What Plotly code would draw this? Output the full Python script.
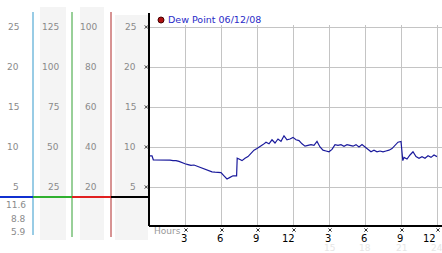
import plotly.graph_objects as go

# ---------------- data ----------------
hours = [0, 0.25, 0.36, 0.5, 0.75, 1.0, 1.25, 1.5, 1.75, 2.0, 2.25, 2.5, 2.75, 3.0,
         3.25, 3.5, 3.75, 4.0, 4.25, 4.5, 4.75, 5.0, 5.25, 5.5, 5.75, 6.0, 6.25,
         6.5, 6.75, 7.0, 7.3, 7.35, 7.5, 7.75, 8.0, 8.25, 8.5, 8.75, 9.0, 9.25,
         9.5, 9.75, 10.0, 10.25, 10.5, 10.75, 11.0, 11.25, 11.5, 11.75, 12.0,
         12.25, 12.5, 12.75, 13.0, 13.25, 13.5, 13.75, 14.0, 14.25, 14.5, 14.75,
         15.0, 15.25, 15.5, 15.75, 16.0, 16.25, 16.5, 16.75, 17.0, 17.25, 17.5,
         17.75, 18.0, 18.25, 18.5, 18.75, 19.0, 19.25, 19.5, 19.75, 20.0, 20.25,
         20.5, 20.75, 21.0, 21.15, 21.25, 21.5, 21.75, 22.0, 22.25, 22.5, 22.75,
         23.0, 23.25, 23.5, 23.75, 24.0]
dew_point = [8.9, 8.9, 8.4, 8.4, 8.4, 8.4, 8.4, 8.35, 8.35, 8.3, 8.3, 8.2, 8.0, 7.9,
             7.8, 7.7, 7.75, 7.6, 7.5, 7.3, 7.2, 7.0, 6.9, 6.85, 6.8, 6.8, 6.4,
             6.0, 6.2, 6.4, 6.4, 8.6, 8.5, 8.3, 8.6, 8.8, 9.2, 9.6, 9.8, 10.0,
             10.3, 10.6, 10.4, 10.9, 10.5, 11.0, 10.7, 11.4, 10.9, 11.0, 11.2,
             10.9, 10.8, 10.4, 10.1, 10.2, 10.3, 10.2, 10.7, 10.0, 9.6, 9.5,
             9.4, 9.7, 10.3, 10.2, 10.3, 10.1, 10.3, 10.2, 10.1, 10.3, 10.0,
             10.3, 10.0, 9.8, 9.4, 9.6, 9.4, 9.5, 9.4, 9.5, 9.6, 9.8,
             10.2, 10.6, 10.7, 8.3, 8.7, 8.5, 9.0, 9.4, 8.8, 8.6, 8.8,
             8.6, 8.9, 8.7, 9.0, 8.8]
series_name = "Dew Point 06/12/08"

x_tickvals = [3, 6, 9, 12, 15, 18, 21, 24]
x_ticktext = ["3", "6", "9", "12", "3", "6", "9", "12"]
x_ticktext_24h = ["15", "18", "21", "24"]

y_levels = [25, 20, 15, 10, 5]
col1_labels = ["25", "20", "15", "10", "5"]
col2_labels = ["125", "100", "75", "50", "25"]
col3_labels = ["100", "80", "60", "40", "20"]
col4_labels = ["25", "20", "15", "10", "5"]
bottom_values = ["11.6", "8.8", "5.9"]

# ---------------- helpers ----------------
W, H = 442, 253
def px(x):
    return x / W
def py(y):
    return 1 - y / H

FONT = "DejaVu Sans"
GRAY = "#8a8a8a"

fig = go.Figure()

# main series
fig.add_trace(go.Scatter(x=hours, y=dew_point, mode="lines",
                         line=dict(color="#1a1a9c", width=1.2),
                         showlegend=False, hoverinfo="skip"))

shapes = []
# gray columns
for (x0, x1, y0) in [(40, 66, 7), (80, 104, 7), (115, 148, 15)]:
    shapes.append(dict(type="rect", xref="paper", yref="paper",
                       x0=px(x0), x1=px(x1), y0=py(240), y1=py(y0),
                       fillcolor="#f4f4f4", line=dict(width=0), layer="below"))
# vertical colored lines
for (x, c, yb) in [(33, "#3399cc", 235), (72, "#33a033", 237), (111, "#b02828", 237)]:
    shapes.append(dict(type="line", xref="paper", yref="paper",
                       x0=px(x), x1=px(x), y0=py(yb), y1=py(12),
                       line=dict(color=c, width=1)))
# horizontal colored segments
for (x0, x1, c) in [(0, 33, "#1030d0"), (33, 72, "#30b030"), (72, 111, "#e02020"), (111, 149, "#000000")]:
    shapes.append(dict(type="line", xref="paper", yref="paper",
                       x0=px(x0), x1=px(x1), y0=py(197), y1=py(197),
                       line=dict(color=c, width=2)))
# left black axis line
shapes.append(dict(type="line", xref="paper", yref="paper",
                   x0=px(149), x1=px(149), y0=py(226), y1=py(13),
                   line=dict(color="#000", width=2)))
# legend dot
shapes.append(dict(type="circle", xref="paper", yref="paper",
                   x0=px(158), x1=px(164), y0=py(23), y1=py(17),
                   fillcolor="#b01010", line=dict(color="#400", width=1)))

# small "x" tick glyphs, anchored to axis values
def glyph(xref, xanchor, yref, yanchor, dx=0, dy=0):
    for (a, b) in [((-1.6, -1.6), (1.6, 1.6)), ((-1.6, 1.6), (1.6, -1.6))]:
        shapes.append(dict(type="line", xref=xref, yref=yref,
                           xsizemode="pixel", ysizemode="pixel",
                           xanchor=xanchor, yanchor=yanchor,
                           x0=a[0] + dx, x1=b[0] + dx, y0=a[1] + dy, y1=b[1] + dy,
                           line=dict(color="#333", width=1)))

for xv in x_tickvals:
    glyph("x", xv, "paper", py(230), dx=1)
for yv in y_levels:
    glyph("paper", px(146.3), "y", yv)

annotations = []
def lab(text, x, yval, anchor="right", color=GRAY, yref="y", size=9):
    annotations.append(dict(text=text, x=x, y=yval, xref="paper", yref=yref,
                            xanchor=anchor, yanchor="middle", showarrow=False,
                            font=dict(family=FONT, size=size, color=color)))

for i, v in enumerate(y_levels):
    lab(col1_labels[i], px(20.5), v)
    lab(col2_labels[i], px(60.5), v)
    lab(col3_labels[i], px(98.5), v)
    lab(col4_labels[i], px(137.5), v)

for t, y in zip(bottom_values, [205, 218.5, 232]):
    lab(t, px(27.5), py(y), yref="paper")

lab("Hours", px(152), py(231), anchor="left", color="#999999", yref="paper")

# x tick labels (drawn at the axis values)
for i, (t, xv) in enumerate(zip(x_ticktext, x_tickvals)):
    shift = 4 if i < len(x_tickvals) - 1 else 1
    annotations.append(dict(text=t, x=xv, y=py(238), xref="x", yref="paper",
                            xanchor="right", yanchor="middle", showarrow=False,
                            xshift=shift,
                            font=dict(family=FONT, size=10, color="#000")))

for t, xv in zip(x_ticktext_24h, x_tickvals[4:]):
    annotations.append(dict(text=t, x=xv, y=py(248), xref="x", yref="paper",
                            xanchor="center", yanchor="middle", showarrow=False,
                            font=dict(family=FONT, size=9, color="#e6e6e6")))

annotations.append(dict(text=series_name, x=px(165.5), y=py(20), xref="paper", yref="paper",
                        xanchor="left", yanchor="middle", showarrow=False,
                        font=dict(family=FONT, size=9.5, color="#2a2ac8")))

fig.update_layout(
    width=W, height=H, margin=dict(l=0, r=0, t=0, b=0),
    paper_bgcolor="white", plot_bgcolor="white",
    shapes=shapes, annotations=annotations,
    xaxis=dict(domain=[px(149), 1], range=[0, 293 / 12], tickvals=x_tickvals,
               showticklabels=False, showgrid=True, gridcolor="#c4c4c4", gridwidth=1,
               zeroline=False, showline=True, linecolor="#000", linewidth=2, ticks=""),
    yaxis=dict(domain=[py(225), py(25)], range=[0.25, 25.25], tickvals=y_levels,
               showgrid=True, gridcolor="#c4c4c4", gridwidth=1, zeroline=False,
               showline=False, showticklabels=False, ticks=""),
)

fig.write_html("out.html")
